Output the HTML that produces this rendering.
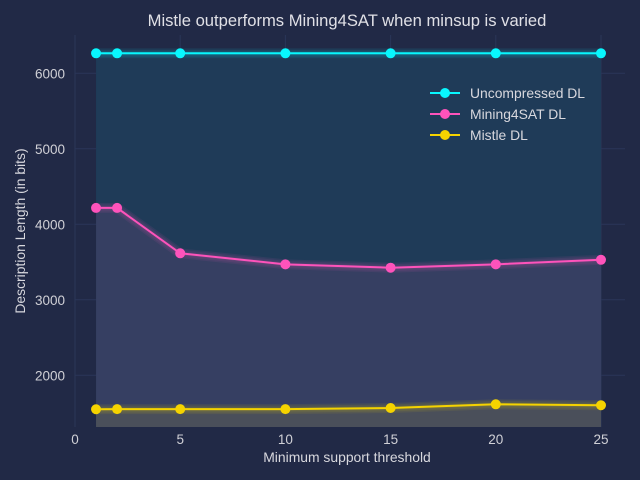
<!DOCTYPE html>
<html><head><meta charset="utf-8"><style>
body{margin:0;background:#212946;}
svg{display:block;font-family:"Liberation Sans",sans-serif;}
</style></head><body>
<svg id="chart" width="640" height="480" xmlns="http://www.w3.org/2000/svg">
<rect width="640" height="480" fill="#212946"/>
<g id="grid"></g>
<g id="fills"></g>
<g id="series"></g>
<g id="axes"></g>
<text x="347" y="26" text-anchor="middle" font-size="16.6" fill="#e0e0e6">Mistle outperforms Mining4SAT when minsup is varied</text>
<text x="347" y="462" text-anchor="middle" font-size="13.9" fill="#d8d8de">Minimum support threshold</text>
<text transform="translate(25,231) rotate(-90)" text-anchor="middle" font-size="13.9" fill="#d8d8de">Description Length (in bits)</text>
<g id="legend"></g>
</svg>
<script>
const xs = [1, 2, 5, 10, 15, 20, 25];
const uncompressed = [6265, 6265, 6265, 6265, 6265, 6265, 6265];
const mining4sat = [4217, 4217, 3616, 3470, 3425, 3470, 3530];
const mistle = [1550, 1552, 1552, 1552, 1567, 1616, 1603];
const xTicks = [0, 5, 10, 15, 20, 25];
const yTicks = [2000, 3000, 4000, 5000, 6000];
const seriesNames = ["Uncompressed DL", "Mining4SAT DL", "Mistle DL"];

const L=75,R=625,T=35,B=427;
const X=v=>75+v*21.04;
const Y=v=>375.3-(v-2000)*0.0755;
const NS="http://www.w3.org/2000/svg";
function mk(tag,attrs,parent){const e=document.createElementNS(NS,tag);for(const k in attrs)e.setAttribute(k,attrs[k]);parent.appendChild(e);return e;}
const grid=document.getElementById('grid'),axes=document.getElementById('axes'),fills=document.getElementById('fills'),ser=document.getElementById('series'),leg=document.getElementById('legend');

xTicks.forEach(t=>{
  const g=mk('line',{x1:X(t),x2:X(t),y1:T,y2:B,stroke:'#2a3658','stroke-width':1},grid);
  
  
  const tx=mk('text',{x:X(t),y:444,'text-anchor':'middle','font-size':13.5,fill:'#d0d0d6'},axes);
  tx.textContent=t;
  
  
});
yTicks.forEach(t=>{
  const g=mk('line',{x1:L,x2:R,y1:Y(t),y2:Y(t),stroke:'#2a3658','stroke-width':1},grid);
  
  
  const tx=mk('text',{x:65,y:Y(t)+5,'text-anchor':'end','font-size':13.5,fill:'#d0d0d6'},axes);
  tx.textContent=t;
  
  
});

function pts(arr){return xs.map((x,i)=>X(x)+','+Y(arr[i]));}
function area(top,bot,color,name){
  const p=pts(top).concat(bot?pts(bot).reverse():[X(xs[xs.length-1])+','+B,X(xs[0])+','+B]);
  const e=mk('polygon',{points:p.join(' '),fill:color},fills);
  
  
}
area(uncompressed,mining4sat,'#1f3b58','uncompressed-area');
area(mining4sat,mistle,'#363f62','mining4sat-area');
area(mistle,null,'#4a4f5a','mistle-area');

const datasets=[[uncompressed,'#08f7fe','uncompressed'],[mining4sat,'#fe53bb','mining4sat'],[mistle,'#f5d300','mistle']];
datasets.forEach(([arr,c,n])=>{
  const p=pts(arr).join(' ');
  [10,7,4].forEach(w=>{const g=mk('polyline',{points:p,fill:'none',stroke:c,'stroke-opacity':0.08,'stroke-width':w,'stroke-linejoin':'round'},ser);
    
    });
  const l=mk('polyline',{points:p,fill:'none',stroke:c,'stroke-width':2},ser);
  
  
  xs.forEach((x,i)=>{const m=mk('circle',{cx:X(x),cy:Y(arr[i]),r:5,fill:c},ser);
    
    });
});

datasets.forEach(([arr,c,n],i)=>{
  const y=93+i*21;
  const l=mk('line',{x1:430,x2:460,y1:y,y2:y,stroke:c,'stroke-width':2},leg);
  
  
  const m=mk('circle',{cx:445,cy:y,r:5,fill:c},leg);
  
  
  const t=mk('text',{x:470,y:y+5,'font-size':13.9,fill:'#d8d8de'},leg);
  t.textContent=seriesNames[i];
  
  
});
</script>
</body></html>
